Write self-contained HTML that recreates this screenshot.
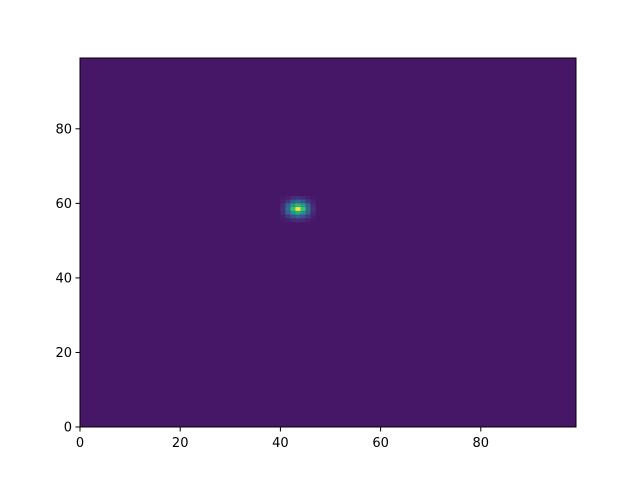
<!DOCTYPE html>
<html><head><meta charset="utf-8"><style>
body{margin:0;background:#fff;width:640px;height:480px;overflow:hidden;font-family:"DejaVu Sans","Liberation Sans",sans-serif}
</style></head><body>
<svg id="c" width="640" height="480"></svg>
<script>
const nx = 99, ny = 99;
const background = 0.06;
const spotCenterX = 43, spotCenterY = 58;
// spot intensities, rows from top (y = center+3) to bottom (y = center-3), cols x-3..x+3
const spotRows = [
 [0.07,0.09,0.12,0.14,0.12,0.09,0.07],
 [0.09,0.16,0.28,0.34,0.28,0.16,0.09],
 [0.12,0.30,0.55,0.65,0.55,0.30,0.12],
 [0.14,0.36,0.68,1.00,0.70,0.36,0.14],
 [0.12,0.30,0.52,0.62,0.52,0.30,0.12],
 [0.09,0.16,0.26,0.30,0.26,0.16,0.09],
 [0.07,0.09,0.11,0.12,0.11,0.09,0.07]
];
const xTicks = [0,20,40,60,80];
const yTicks = [0,20,40,60,80];

const L=80,R=576,T=58,B=427;
const sx=v=>L+(v/nx)*(R-L), sy=v=>B-(v/ny)*(B-T);
const stops=[[68,1,84],[72,40,120],[62,74,137],[49,104,142],[38,130,142],[31,158,137],[53,183,121],[110,206,88],[181,222,43],[253,231,37]];
function vir(t){t=Math.max(0,Math.min(1,t))*(stops.length-1);const i=Math.min(stops.length-2,Math.floor(t)),f=t-i;const a=stops[i],b=stops[i+1];return `rgb(${a.map((v,k)=>Math.round(v+(b[k]-v)*f)).join(',')})`;}
const svg=document.getElementById('c');const NS='http://www.w3.org/2000/svg';
function mk(tag,attrs){const e=document.createElementNS(NS,tag);for(const k in attrs)e.setAttribute(k,attrs[k]);svg.appendChild(e);return e;}
const bg=mk('rect',{x:L,y:T,width:R-L,height:B-T,fill:vir(background)});


spotRows.forEach((row,r)=>row.forEach((v,c)=>{
 const gx=spotCenterX-3+c, gy=spotCenterY+3-r;
 const e=mk('rect',{x:sx(gx),y:sy(gy+1),width:sx(gx+1)-sx(gx)+0.3,height:sy(gy)-sy(gy+1)+0.3,fill:vir(v)});
 
 
}));
const fr=mk('rect',{x:L,y:T,width:R-L,height:B-T,fill:'none',stroke:'#000','stroke-width':1});


xTicks.forEach(v=>{const x=sx(v);mk('line',{x1:x,x2:x,y1:B,y2:B+4.5,stroke:'#000'});
 const t=mk('text',{x:x,y:B+20,'text-anchor':'middle','font-size':13});t.textContent=v;
 
 });
yTicks.forEach(v=>{const y=sy(v);mk('line',{x1:L-4.5,x2:L,y1:y,y2:y,stroke:'#000'});
 const t=mk('text',{x:L-8,y:y+4.5,'text-anchor':'end','font-size':13});t.textContent=v;
 
 });
</script>
</body></html>
